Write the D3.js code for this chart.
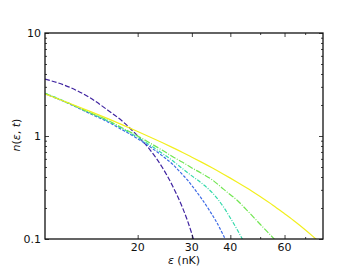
<!DOCTYPE html>
<html>
<head>
<meta charset="utf-8">
<script src="https://cdn.jsdelivr.net/npm/d3@7"></script>
<style>
  body { margin: 0; background: #fff; }
  text { font-family: "DejaVu Sans", sans-serif; }
</style>
</head>
<body>
<svg width="359" height="269"></svg>
<script>
// energies (nK) and occupation numbers
var epsPurple = [10, 12, 14, 16, 18, 20, 22, 24, 26, 28, 29, 30, 31];
var nPurple   = [3.57, 2.98, 2.35, 1.78, 1.36, 1.0, 0.725, 0.50, 0.325, 0.20, 0.152, 0.112, 0.08];
var epsBlue = [10, 12, 14, 16, 18, 20, 22, 24, 26, 28, 29, 30, 31, 32, 34, 35, 36, 38, 40];
var nBlue   = [2.57, 2.05, 1.65, 1.37, 1.13, 0.94, 0.78, 0.645, 0.53, 0.42, 0.375, 0.33, 0.29, 0.255, 0.195, 0.17, 0.148, 0.108, 0.078];
var epsTeal = [10, 12, 14, 16, 18, 20, 22, 24, 26, 28, 30, 32, 35, 38, 40, 42, 44];
var nTeal   = [2.6, 2.08, 1.68, 1.40, 1.16, 0.97, 0.81, 0.68, 0.575, 0.48, 0.41, 0.355, 0.28, 0.205, 0.16, 0.125, 0.097];
var epsGreen = [10, 12, 14, 16, 18, 20, 22, 24, 26, 28, 30, 32, 35, 38, 40, 42, 45, 50, 55, 58];
var nGreen   = [2.6, 2.06, 1.68, 1.42, 1.18, 1.0, 0.85, 0.73, 0.63, 0.555, 0.49, 0.44, 0.374, 0.305, 0.269, 0.239, 0.194, 0.139, 0.103, 0.087];
var epsYellow = [10, 12, 14, 16, 18, 20, 22, 24, 26, 28, 30, 32, 35, 38, 40, 42, 45, 50, 55, 60, 65, 70, 75, 78];
var nYellow   = [2.56, 2.08, 1.733, 1.473, 1.269, 1.107, 0.974, 0.864, 0.771, 0.692, 0.623, 0.564, 0.489, 0.426, 0.39, 0.358, 0.316, 0.258, 0.213, 0.176, 0.147, 0.123, 0.103, 0.093];

var xTicks = [20, 30, 40, 60];
var xMinor = [50, 70];
var yTicks = [0.1, 1, 10];
var yTickLabels = ["0.1", "1", "10"];

var series = [
  {x: epsPurple, y: nPurple, color: "#3f23a0", dash: "5,2"},
  {x: epsBlue,   y: nBlue,   color: "#3d6ae6", dash: "3,1.5"},
  {x: epsTeal,   y: nTeal,   color: "#33d9aa", dash: "4,1.5,1,1.5"},
  {x: epsGreen,  y: nGreen,  color: "#72e652", dash: "6,1.5,1,1.5"},
  {x: epsYellow, y: nYellow, color: "#f2ef1e", dash: null}
];

var svg = d3.select("svg");
var mLeft = 45, mRight = 323, mTop = 33, mBottom = 239;

var x = d3.scaleLog().domain([10, 80]).range([mLeft, mRight]);
var y = d3.scaleLog().domain([0.1, 10]).range([mBottom, mTop]);

svg.append("clipPath").attr("id", "clip")
  .append("rect")
    .attr("x", mLeft).attr("y", mTop)
    .attr("width", mRight - mLeft).attr("height", mBottom - mTop);

var line = d3.line()
    .x(function(d) { return x(d[0]); })
    .y(function(d) { return y(d[1]); })
    .curve(d3.curveMonotoneX);

var g = svg.append("g").attr("clip-path", "url(#clip)");
series.forEach(function(s) {
  g.append("path")
    .datum(d3.zip(s.x, s.y))
    .attr("fill", "none")
    .attr("stroke", s.color)
    .attr("stroke-width", 1.2)
    .attr("stroke-dasharray", s.dash)
    .attr("d", line);
});

// minor y ticks 2..9 per decade
var yMinor = [];
[0.1, 1].forEach(function(d) { for (var k = 2; k < 10; k++) yMinor.push(d * k); });

// axes with inward ticks on all four sides
function tickAxis(axis, tickSize) {
  return axis.tickSize(tickSize).tickPadding(4);
}
svg.append("g").attr("transform", "translate(0," + mBottom + ")")
  .call(tickAxis(d3.axisTop(x).tickValues(xTicks).tickFormat(""), 4));
svg.append("g").attr("transform", "translate(0," + mBottom + ")")
  .call(tickAxis(d3.axisTop(x).tickValues(xMinor).tickFormat(""), 2));
svg.append("g").attr("transform", "translate(0," + mTop + ")")
  .call(tickAxis(d3.axisBottom(x).tickValues(xTicks).tickFormat(""), 4));
svg.append("g").attr("transform", "translate(0," + mTop + ")")
  .call(tickAxis(d3.axisBottom(x).tickValues(xMinor).tickFormat(""), 2));
svg.append("g").attr("transform", "translate(" + mLeft + ",0)")
  .call(tickAxis(d3.axisRight(y).tickValues(yTicks).tickFormat(""), 4));
svg.append("g").attr("transform", "translate(" + mLeft + ",0)")
  .call(tickAxis(d3.axisRight(y).tickValues(yMinor).tickFormat(""), 2));
svg.append("g").attr("transform", "translate(" + mRight + ",0)")
  .call(tickAxis(d3.axisLeft(y).tickValues(yTicks).tickFormat(""), 4));
svg.append("g").attr("transform", "translate(" + mRight + ",0)")
  .call(tickAxis(d3.axisLeft(y).tickValues(yMinor).tickFormat(""), 2));
svg.selectAll(".domain").remove();
svg.selectAll(".tick line").attr("stroke", "#111").attr("stroke-width", 0.8);

// frame
svg.append("rect")
  .attr("x", mLeft).attr("y", mTop)
  .attr("width", mRight - mLeft).attr("height", mBottom - mTop)
  .attr("fill", "none").attr("stroke", "#111").attr("stroke-width", 1.3);

// tick labels
svg.selectAll(".xlab").data(xTicks).enter().append("text")
  .attr("x", function(d) { return x(d); })
  .attr("y", mBottom + 12)
  .attr("text-anchor", "middle")
  .attr("font-size", 11)
  .attr("fill", "#111")
  .text(function(d) { return d; });
svg.selectAll(".ylab").data(yTicks).enter().append("text")
  .attr("x", mLeft - 4)
  .attr("y", function(d) { return y(d) + 4; })
  .attr("text-anchor", "end")
  .attr("font-size", 11)
  .attr("fill", "#111")
  .text(function(d, i) { return yTickLabels[i]; });

// axis titles
var xt = svg.append("text")
  .attr("x", (mLeft + mRight) / 2).attr("y", 264)
  .attr("text-anchor", "middle").attr("font-size", 11).attr("fill", "#111");
xt.append("tspan").attr("font-style", "italic").text("ε");
xt.append("tspan").text(" (nK)");

var yt = svg.append("text")
  .attr("transform", "translate(20,135) rotate(-90)")
  .attr("text-anchor", "middle").attr("font-size", 11).attr("fill", "#111");
yt.append("tspan").attr("font-style", "italic").text("n");
yt.append("tspan").text("(");
yt.append("tspan").attr("font-style", "italic").text("ε");
yt.append("tspan").text(", ");
yt.append("tspan").attr("font-style", "italic").text("t");
yt.append("tspan").text(")");
</script>
</body>
</html>
